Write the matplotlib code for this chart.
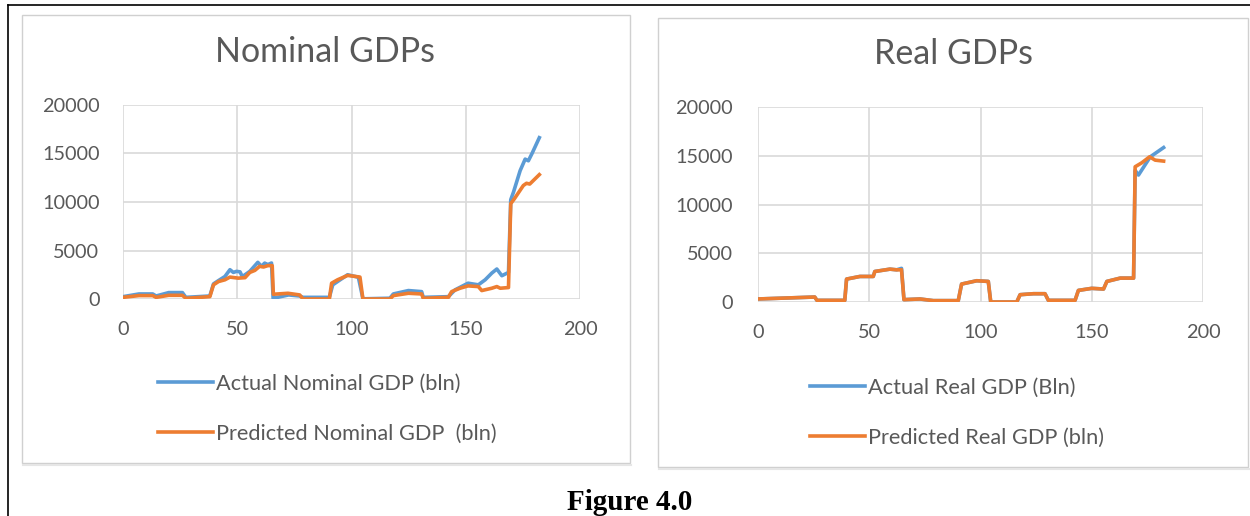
import matplotlib
matplotlib.use("Agg")
import matplotlib.pyplot as plt
from matplotlib.patches import Rectangle
from matplotlib.lines import Line2D

plt.rcParams["font.family"] = ["Lato", "DejaVu Sans"]

nom_act_x = [0, 7, 13, 14.5, 20, 26, 27.5, 38, 39.6, 41.8, 44.6, 46.8, 48.3, 49.7, 51.2, 52.2, 53.4, 55.5, 59, 60.6, 62, 63.4, 65, 65.7,
             72.5, 77.3, 78.8, 90.3, 91.8, 93.9, 98.3, 103, 105, 116.8, 118.3, 124.9, 130.7, 131.4, 142.4, 145.3, 151, 155.5, 158.5,
             161.4, 163.6, 165.8, 168.7, 169.7, 170.9, 173.8, 176, 177.4, 179, 182.2]
nom_act_y = [240, 520, 520, 310, 660, 660, 170, 310, 1560, 1900, 2320, 3020, 2740, 2850, 2800, 2320, 2500, 2850, 3780, 3370, 3700, 3550, 3710, 70,
             420, 310, 170, 170, 1460, 1800, 2500, 2250, 20, 80, 520, 870, 760, 170, 240, 940, 1630, 1460, 1980,
             2670, 3090, 2400, 2740, 10240, 11020, 13230, 14420, 14250, 15000, 16630]

nom_pred_x = [0, 7, 13, 14.5, 20, 26, 27.5, 38, 39.6, 41.8, 44.6, 46.8, 50.4, 53.4, 55.5, 57.7, 59.8, 61.5, 63.4, 65.3, 65.8,
              72.2, 77.3, 78.8, 90.3, 91.3, 93.9, 98.3, 103.7, 105, 116.8, 118.3, 124.9, 130.7, 131.4, 142.4, 143.8, 147.5, 151,
              155.5, 157, 161.4, 163.6, 165.1, 168.7, 169.7, 171.3, 175.2, 176.6, 178, 182.2]
nom_pred_y = [170, 350, 350, 170, 380, 380, 70, 240, 1460, 1800, 1980, 2260, 2150, 2200, 2740, 2950, 3370, 3300, 3440, 3440, 490,
              590, 420, 0, 0, 1630, 1980, 2430, 2260, 0, 0, 350, 590, 520, 70, 170, 760, 1110, 1350,
              1280, 870, 1110, 1280, 1110, 1180, 9830, 10340, 11700, 11930, 11850, 12820]

real_act_x = [0, 25.5, 26.5, 39, 39.8, 45.8, 51.8, 52.5, 59.3, 62.3, 64.5, 65.6, 72.8, 78.8, 90, 91.5, 98.3, 103.5, 104.6,
              116.3, 117.8, 123.8, 129, 130.5, 142.5, 144, 150, 155.3, 156.8, 162.8, 168.8, 169.5, 171, 176.3, 182.3]
real_act_y = [310, 510, 170, 170, 2350, 2620, 2620, 3130, 3370, 3300, 3450, 240, 310, 140, 140, 1840, 2180, 2110, 0,
              0, 750, 850, 850, 170, 170, 1190, 1400, 1330, 2110, 2450, 2450, 13500, 13020, 14890, 15840]

real_pred_x = [0, 25.5, 26.5, 39, 39.8, 45.8, 51.8, 52.5, 59.3, 62.3, 64.5, 65.6, 72.8, 78.8, 90, 91.5, 98.3, 103.5, 104.6,
               116.3, 117.8, 123.8, 129, 130.5, 142.5, 144, 150, 155.3, 156.8, 162.8, 168.8, 169.5, 172.5, 176, 178.5, 182.3]
real_pred_y = [310, 510, 170, 170, 2350, 2620, 2620, 3130, 3370, 3300, 3300, 240, 310, 140, 140, 1840, 2180, 2110, 0,
               0, 750, 850, 850, 170, 170, 1190, 1400, 1330, 2110, 2450, 2450, 13870, 14280, 14890, 14550, 14450]

x_ticks = [0, 50, 100, 150, 200]
y_ticks = [0, 5000, 10000, 15000, 20000]

BLUE = "#5B9BD5"
ORANGE = "#ED7D31"
GRID = "#D9D9D9"
TEXT = "#595959"

W, H = 1250, 516


def fx(x):
    return x / W


def fy(y):
    return 1 - y / H


def panel(fig, x0, y0, x1, y1):
    fig.patches.append(Rectangle((fx(x0), fy(y1)), fx(x1 - x0), (y1 - y0) / H,
                                 transform=fig.transFigure, fill=False,
                                 edgecolor="#D0D0D0", linewidth=1.0))
    fig.lines.append(Line2D([fx(x0 + 1), fx(x1 + 1)], [fy(y1 + 1.5), fy(y1 + 1.5)],
                            transform=fig.transFigure, color="#E6E6E6", linewidth=1.5))


def chart(ax, title, cx, title_base, xa, ya, xp, yp, labels, leg_x, leg_y, ypad):
    ax.plot(xa, ya, color=BLUE, linewidth=2.6, solid_joinstyle="round", label=labels[0])
    ax.plot(xp, yp, color=ORANGE, linewidth=2.6, solid_joinstyle="round", label=labels[1])
    ax.set_xlim(0, 200)
    ax.set_ylim(0, 20000)
    ax.set_xticks(x_ticks)
    ax.set_yticks(y_ticks)
    ax.grid(True, color=GRID, linewidth=1.2)
    ax.set_axisbelow(True)
    for s in ax.spines.values():
        s.set_visible(False)
    ax.tick_params(length=0, labelsize=14.3, labelcolor=TEXT, pad=16)
    ax.tick_params(axis="y", pad=ypad)
    fig.text(fx(cx), fy(title_base), title, ha="center", va="baseline", fontsize=24.5,
             color=TEXT)
    ax.legend(loc="upper left", bbox_to_anchor=(fx(leg_x), fy(leg_y)),
              bbox_transform=fig.transFigure, frameon=False, fontsize=15.7,
              labelcolor=TEXT, handlelength=2.5, handletextpad=0.15,
              labelspacing=1.35, borderpad=0, borderaxespad=0)


fig = plt.figure(figsize=(12.5, 5.16), dpi=100)

# document frame lines
fig.lines.append(Line2D([fx(8), fx(1250)], [fy(5), fy(5)], transform=fig.transFigure, color="black", linewidth=1.2))
fig.lines.append(Line2D([fx(8), fx(8)], [fy(5), fy(516)], transform=fig.transFigure, color="black", linewidth=1.2))

panel(fig, 22, 15, 630, 463)
panel(fig, 658, 18, 1248, 467)

ax1 = fig.add_axes([fx(123), fy(299), fx(580 - 123), (299 - 105) / H])
chart(ax1, "Nominal GDPs", 325, 62, nom_act_x, nom_act_y, nom_pred_x, nom_pred_y,
      ["Actual Nominal GDP (bln)", "Predicted Nominal GDP  (bln)"], 158, 374, 17)

ax2 = fig.add_axes([fx(758), fy(302), fx(1203 - 758), (302 - 107) / H])
chart(ax2, "Real GDPs", 953, 64, real_act_x, real_act_y, real_pred_x, real_pred_y,
      ["Actual Real GDP (Bln)", "Predicted Real GDP (bln)"], 810, 378, 18)

fig.text(fx(630), fy(502), "Figure 4.0", ha="center", va="center", fontsize=21,
         fontweight="bold", family=["Liberation Serif", "DejaVu Serif"])

fig.savefig("out.png", dpi=100)
